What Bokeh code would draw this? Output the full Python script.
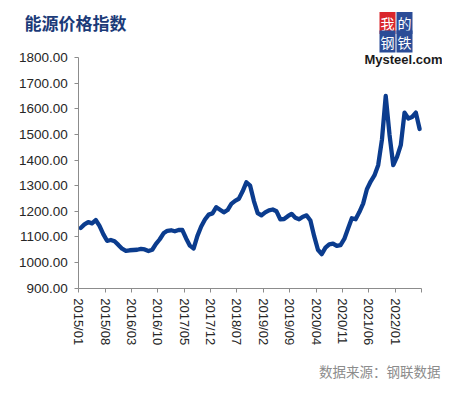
from bokeh.plotting import figure
from bokeh.models import Label, FixedTicker, Range1d, PrintfTickFormatter
from bokeh.embed import file_html
from bokeh.resources import INLINE

# ---- data ----
months = [f"{2015 + i // 12}/{i % 12 + 1:02d}" for i in range(91)]
values = [
    1135, 1149, 1158, 1153, 1166, 1143, 1111, 1085, 1088, 1083, 1069, 1054,
    1046, 1048, 1049, 1050, 1053, 1051, 1045, 1050, 1073, 1091, 1114, 1124,
    1126, 1122, 1127, 1127, 1094, 1066, 1055, 1104, 1141, 1168, 1187, 1192,
    1216, 1206, 1196, 1205, 1229, 1241, 1249, 1278, 1313, 1300, 1240, 1193,
    1184, 1196, 1204, 1207, 1200, 1169, 1170, 1181, 1190, 1175, 1169, 1179,
    1184, 1164, 1103, 1050, 1033, 1058, 1071, 1074, 1065, 1068, 1092, 1133,
    1173, 1169, 1197, 1230, 1286, 1316, 1340, 1380, 1480, 1650, 1500, 1380,
    1412, 1458, 1585, 1562, 1568, 1585, 1521,
]
tick_labels = ["2015/01", "2015/08", "2016/03", "2016/10", "2017/05", "2017/12",
               "2018/07", "2019/02", "2019/09", "2020/04", "2020/11", "2021/06",
               "2022/01"]
y_ticks = [900, 1000, 1100, 1200, 1300, 1400, 1500, 1600, 1700, 1800]
title_text = "能源价格指数"
source_text = "数据来源：钢联数据"

# ---- layout (pixel geometry of the plotting area inside the canvas) ----
W, H = 442, 381
PL, PR, PT, PB = 78.3, 421.0, 57.0, 287.7   # plot area edges in canvas px
N = len(values)
X0, X1 = -0.5, N - 0.5
Y0, Y1 = 900, 1800
sx = (PR - PL) / (X1 - X0)      # px per x unit
sy = (PB - PT) / (Y1 - Y0)      # px per y unit
XS, XE = X0 - PL / sx, X1 + (W - PR) / sx
YS, YE = Y0 - (H - PB) / sy, Y1 + PT / sy


def dx(px):
    return XS + px / sx


def dy(py):
    return YE - py / sy


p = figure(width=W, height=H, output_backend="svg", toolbar_location=None,
           title=None, x_range=Range1d(XS, XE), y_range=Range1d(YS, YE),
           min_border=0, min_border_left=0, min_border_right=0,
           min_border_top=0, min_border_bottom=0)
p.outline_line_color = None
p.xgrid.visible = False
p.ygrid.visible = False
p.background_fill_color = "white"
p.border_fill_color = "white"

xs = list(range(N))
p.line(xs, values, line_color="#0B3C8E", line_width=4.3,
       line_join="round", line_cap="round")

axis_col = "#8c8c8c"
lab_col = "#262626"

# y axis (kept at the start of the category range)
p.yaxis.fixed_location = X0
p.yaxis.bounds = (Y0, Y1)
p.yaxis.ticker = FixedTicker(ticks=y_ticks)
p.yaxis.formatter = PrintfTickFormatter(format="%.2f")
p.yaxis.axis_line_color = axis_col
p.yaxis.major_tick_line_color = axis_col
p.yaxis.major_tick_out = 4
p.yaxis.major_tick_in = 0
p.yaxis.minor_tick_line_color = None
p.yaxis.major_label_standoff = 7
p.yaxis.major_label_text_font = "Liberation Sans"
p.yaxis.major_label_text_font_size = "13.5px"
p.yaxis.major_label_text_color = lab_col

# x axis: ticks at category boundaries, every 7 months
xt = [X0 + 7 * k for k in range(len(tick_labels) + 1)]
overrides = {}
for k, t in enumerate(xt):
    overrides[t] = tick_labels[k] if k < len(tick_labels) else ""
p.xaxis.fixed_location = Y0
p.xaxis.bounds = (X0, X1)
p.xaxis.ticker = FixedTicker(ticks=xt)
p.xaxis.major_label_overrides = overrides
p.xaxis.major_label_orientation = "vertical"
p.xaxis.axis_line_color = axis_col
p.xaxis.major_tick_line_color = axis_col
p.xaxis.major_tick_out = 4
p.xaxis.major_tick_in = 0
p.xaxis.minor_tick_line_color = None
p.xaxis.major_label_standoff = 6
p.xaxis.major_label_text_font = "Liberation Sans"
p.xaxis.major_label_text_font_size = "13px"
p.xaxis.major_label_text_color = lab_col

# title
p.add_layout(Label(x=dx(24), y=dy(22), text=title_text, text_align="left",
                   text_baseline="middle", text_font="Noto Sans CJK SC",
                   text_font_style="bold", text_font_size="17px",
                   text_color="#1B3A78"))

# logo
logo = [("我", 387, 22.5, "#D9262C"), ("的", 404, 22.5, "#2B4C97"),
        ("钢", 387, 41, "#2B4C97"), ("铁", 404, 41, "#2B4C97")]
for ch, cx, cy, col in logo:
    p.add_layout(Label(x=dx(cx), y=dy(cy), text=ch, text_align="center",
                       text_baseline="middle", text_font="Noto Sans CJK SC",
                       text_font_size="14px", text_color="white",
                       background_fill_color=col, padding=1))
p.add_layout(Label(x=dx(403), y=dy(59), text="Mysteel.com", text_align="center",
                   text_baseline="middle", text_font="Liberation Sans",
                   text_font_style="bold", text_font_size="13px",
                   text_color="#1a1a1a"))

# source
p.add_layout(Label(x=dx(440), y=dy(370), text=source_text, text_align="right",
                   text_baseline="middle", text_font="Noto Sans CJK SC",
                   text_font_size="13.5px", text_color="#8c8c8c"))

open("out.html", "w").write(file_html(p, INLINE))
